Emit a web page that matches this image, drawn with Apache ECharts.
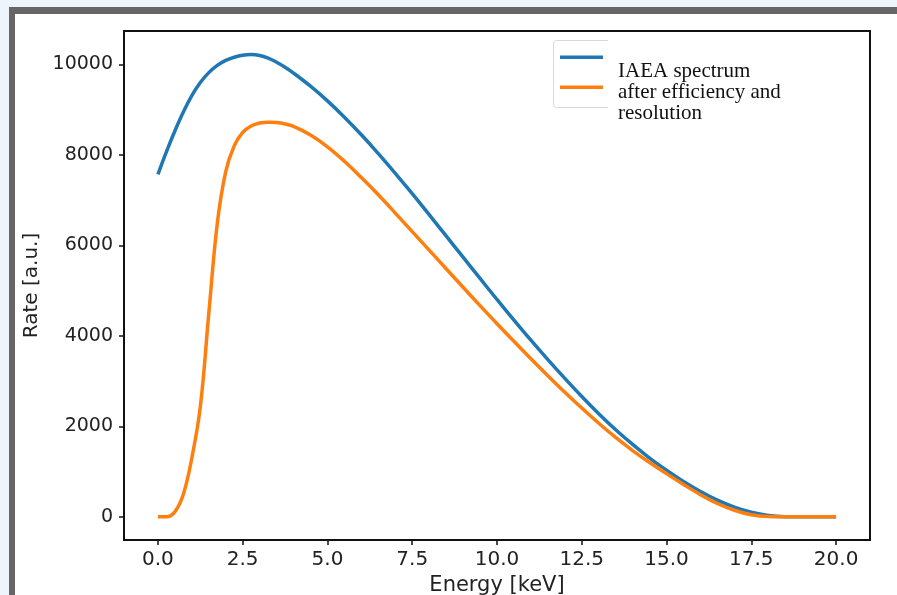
<!DOCTYPE html>
<html>
<head>
<meta charset="utf-8">
<script src="https://cdn.jsdelivr.net/npm/echarts@6/dist/echarts.min.js"></script>
<style>
  html, body { margin: 0; padding: 0; background: #edf4fc; }
  #frame { position: absolute; left: 9px; top: 7px; width: 888px; height: 588px; background: #666; }
  #panel { position: absolute; left: 15px; top: 14px; width: 882px; height: 581px; background: #fff; }
  #chart { position: absolute; left: 0; top: 0; width: 897px; height: 595px; }
</style>
</head>
<body>
<div id="frame"></div>
<div id="panel"></div>
<div id="chart"></div>
<script>
// Energy grid (keV) and rates for the two spectra
const energy = [
  0, 0.25, 0.5, 0.75, 1.0, 1.25, 1.5, 1.75, 2.0, 2.25, 2.5, 2.75, 3.0, 3.25, 3.5, 3.75,
  4.0, 4.5, 5.0, 5.5, 6.0, 6.5, 7.0, 7.5, 8.0, 8.5, 9.0, 9.5, 10.0, 10.5, 11.0, 11.5,
  12.0, 12.5, 13.0, 13.5, 14.0, 14.5, 15.0, 15.5, 16.0, 16.5, 17.0, 17.5, 18.0, 18.5,
  19.0, 19.5, 20.0
];
const iaeaRate = [
  7570, 8070, 8530, 8950, 9310, 9600, 9820, 9980, 10090, 10160, 10205, 10220, 10200, 10140, 10050, 9940,
  9810, 9520, 9195, 8835, 8445, 8030, 7595, 7145, 6680, 6210, 5740, 5270, 4805, 4350, 3905, 3475,
  3060, 2660, 2280, 1925, 1600, 1300, 1030, 780, 560, 370, 215, 100, 30, 3,
  0, 0, 0
];
const detectedRate = [
  0, 0, 110, 500, 1300, 2430, 4490, 6480, 7630, 8200, 8500, 8640, 8705, 8725, 8715, 8685,
  8630, 8440, 8180, 7860, 7500, 7120, 6715, 6305, 5895, 5485, 5075, 4670, 4270, 3880, 3495, 3120,
  2755, 2405, 2070, 1755, 1465, 1200, 955, 715, 490, 295, 145, 45, 5, 0,
  0, 0, 0
];
const xTicks = [0, 2.5, 5, 7.5, 10, 12.5, 15, 17.5, 20];
const yTicks = [0, 2000, 4000, 6000, 8000, 10000];
const seriesNames = ['IAEA spectrum', 'after efficiency and resolution'];
const legendLines = ['IAEA spectrum', 'after efficiency and', 'resolution'];

const pairs = (xs, ys) => xs.map((x, i) => [x, ys[i]]);

const labelColor = '#222';
const serifFont = '21px "Liberation Serif", "Times New Roman", serif';

const chart = echarts.init(document.getElementById('chart'), null, { renderer: 'canvas' });
chart.setOption({
  animation: false,
  backgroundColor: 'transparent',
  grid: {
    left: 124, right: 27, top: 31, bottom: 55,
    outerBoundsMode: 'none', containLabel: false,
    show: true, borderColor: '#111', borderWidth: 2, backgroundColor: 'transparent'
  },
  xAxis: {
    type: 'value', min: -1, max: 21,
    name: 'Energy [keV]', nameLocation: 'middle', nameGap: 24,
    nameTextStyle: { fontFamily: 'DejaVu Sans', fontSize: 21, color: labelColor },
    axisLine: { show: false, onZero: false },
    splitLine: { show: false },
    axisTick: { show: true, length: 5, lineStyle: { color: '#111', width: 1.5 }, customValues: xTicks },
    axisLabel: {
      margin: 10, customValues: xTicks, formatter: v => v.toFixed(1),
      fontFamily: 'DejaVu Sans', fontSize: 20, color: labelColor
    }
  },
  yAxis: {
    type: 'value', min: -512, max: 10740,
    name: 'Rate [a.u.]', nameLocation: 'middle', nameGap: 74,
    nameTextStyle: { fontFamily: 'DejaVu Sans', fontSize: 20, color: labelColor },
    axisLine: { show: false, onZero: false },
    splitLine: { show: false },
    axisTick: { show: true, length: 5, lineStyle: { color: '#111', width: 1.5 }, customValues: yTicks },
    axisLabel: {
      margin: 11, customValues: yTicks, formatter: v => String(v),
      fontFamily: 'DejaVu Sans', fontSize: 19, color: labelColor
    }
  },
  legend: {
    orient: 'vertical', left: 555, top: 50.5,
    icon: 'rect', itemWidth: 43, itemHeight: 3.5, itemGap: 26.5,
    data: seriesNames,
    formatter: () => '',
    textStyle: { fontSize: 2, lineHeight: 2 },
    selectedMode: false, z: 10
  },
  graphic: [
    { type: 'rect', z: 5, shape: { x: 553.5, y: 40.5, width: 70, height: 67, r: 3 },
      style: { fill: '#fff', stroke: '#d8d8d8', lineWidth: 1 } },
    { type: 'rect', z: 6, shape: { x: 608, y: 33, width: 190, height: 100 },
      style: { fill: '#fff' } },
    { type: 'text', z: 7, left: 618, top: 61,
      style: { text: legendLines[0], font: serifFont, fill: '#111' } },
    { type: 'text', z: 7, left: 618, top: 82,
      style: { text: legendLines[1], font: serifFont, fill: '#111' } },
    { type: 'text', z: 7, left: 618, top: 103,
      style: { text: legendLines[2], font: serifFont, fill: '#111' } }
  ],
  series: [
    {
      name: seriesNames[0], type: 'line', data: pairs(energy, iaeaRate),
      showSymbol: false, smooth: 0.4, color: '#1f77b4',
      lineStyle: { width: 3.5, color: '#1f77b4' }, z: 2
    },
    {
      name: seriesNames[1], type: 'line', data: pairs(energy, detectedRate),
      showSymbol: false, smooth: 0.4, color: '#ff7f0e',
      lineStyle: { width: 3.5, color: '#ff7f0e' }, z: 3
    }
  ]
});
</script>
</body>
</html>
